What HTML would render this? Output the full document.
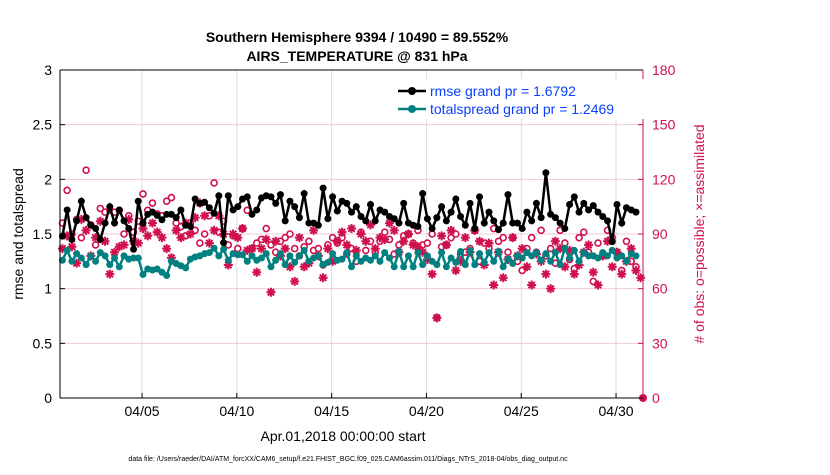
<!DOCTYPE html>
<html><head><meta charset="utf-8">
<style>
body{margin:0;background:#fff;font-family:"Liberation Sans",sans-serif}
svg text{font-family:"Liberation Sans",sans-serif}
</style></head><body>
<svg id="c" width="830" height="470" xmlns="http://www.w3.org/2000/svg">
<rect width="830" height="470" fill="#fff"/>
<text x="357" y="42" text-anchor="middle" font-size="14" font-weight="bold">Southern Hemisphere 9394 / 10490 = 89.552%</text>
<text x="357" y="61" text-anchor="middle" font-size="14" font-weight="bold">AIRS_TEMPERATURE @ 831 hPa</text>
<g id="grid"></g>
<g id="marks"></g>
<g id="axes"></g>
<text x="23" y="234" transform="rotate(-90 23 234)" text-anchor="middle" font-size="14">rmse and totalspread</text>
<text x="704" y="234" transform="rotate(-90 704 234)" text-anchor="middle" font-size="14" fill="#d0104c"># of obs: o=possible; ×=assimilated</text>
<text x="343" y="441" text-anchor="middle" font-size="14">Apr.01,2018 00:00:00 start</text>
<text x="348" y="461" text-anchor="middle" font-size="7">data file: /Users/raeder/DAI/ATM_forcXX/CAM6_setup/f.e21.FHIST_BGC.f09_025.CAM6assim.011/Diags_NTrS_2018-04/obs_diag_output.nc</text>
<g>
<rect x="392" y="79" width="252" height="40" fill="#fff"/>
<line x1="398" y1="91" x2="426" y2="91" stroke="#000" stroke-width="2.5"/><circle cx="412" cy="91" r="4" fill="#000"/>
<text x="430" y="96" font-size="14" fill="#0a40ff">rmse grand pr = 1.6792</text>
<line x1="398" y1="109" x2="426" y2="109" stroke="#008080" stroke-width="2.5"/><circle cx="412" cy="109" r="4" fill="#008080"/>
<text x="430" y="114" font-size="14" fill="#0a40ff">totalspread grand pr = 1.2469</text>
</g>
</svg>
<script>
const rmse=[1.48,1.72,1.45,1.62,1.8,1.65,1.58,1.55,1.45,1.6,1.75,1.6,1.72,1.62,1.55,1.36,1.8,1.6,1.68,1.7,1.67,1.63,1.68,1.68,1.65,1.72,1.58,1.57,1.82,1.78,1.79,1.74,1.69,1.85,1.42,1.85,1.72,1.75,1.82,1.84,1.68,1.72,1.83,1.85,1.84,1.78,1.86,1.62,1.8,1.75,1.65,1.87,1.6,1.6,1.58,1.92,1.64,1.84,1.71,1.8,1.78,1.7,1.75,1.66,1.62,1.77,1.62,1.72,1.7,1.66,1.64,1.6,1.78,1.6,1.58,1.57,1.87,1.64,1.55,1.65,1.75,1.62,1.7,1.82,1.66,1.58,1.78,1.55,1.84,1.6,1.7,1.62,1.54,1.6,1.86,1.6,1.6,1.55,1.7,1.62,1.78,1.65,2.06,1.68,1.65,1.6,1.55,1.77,1.84,1.7,1.78,1.72,1.76,1.7,1.66,1.62,1.43,1.77,1.6,1.74,1.72,1.7];
const spread=[1.26,1.35,1.25,1.32,1.28,1.22,1.3,1.25,1.33,1.3,1.22,1.28,1.2,1.3,1.27,1.28,1.28,1.13,1.18,1.17,1.18,1.15,1.12,1.25,1.23,1.21,1.19,1.27,1.29,1.3,1.32,1.33,1.37,1.3,1.36,1.26,1.32,1.31,1.31,1.25,1.3,1.26,1.28,1.32,1.2,1.26,1.32,1.22,1.3,1.24,1.3,1.35,1.25,1.28,1.3,1.22,1.24,1.32,1.26,1.27,1.33,1.2,1.3,1.25,1.28,1.26,1.3,1.25,1.33,1.28,1.2,1.34,1.2,1.3,1.2,1.33,1.22,1.3,1.25,1.22,1.33,1.2,1.28,1.24,1.34,1.22,1.35,1.22,1.32,1.24,1.33,1.25,1.34,1.2,1.27,1.23,1.3,1.28,1.33,1.3,1.33,1.26,1.32,1.25,1.33,1.22,1.37,1.28,1.35,1.25,1.33,1.3,1.3,1.28,1.33,1.3,1.35,1.28,1.3,1.25,1.32,1.3];
const possible=[96,114,90,98,88,125,95,84,104,102,103,102,103,90,100,91,97,112,103,107,101,100,108,110,96,94,89,96,92,85,90,100,118,91,97,84,89,82,93,103,82,85,87,93,84,80,86,88,90,82,78,83,86,81,82,73,84,88,85,88,79,82,75,91,81,86,80,86,91,87,79,84,89,90,85,92,84,85,90,44,83,84,88,90,79,80,82,92,75,85,82,93,86,88,80,88,75,70,82,88,80,92,78,82,74,92,85,76,71,88,91,80,64,85,78,92,88,80,70,86,75,72];
const assim=[82,89,83,74,98,92,78,88,97,86,68,80,83,84,98,86,85,93,89,96,91,88,82,77,92,88,96,90,99,107,100,85,92,100,90,73,90,88,93,81,82,69,82,87,58,86,78,82,72,64,88,72,74,92,78,66,82,75,86,91,84,93,81,90,86,95,82,88,87,96,92,80,86,90,84,83,80,76,68,44,89,84,92,70,75,88,80,92,86,73,85,62,80,66,76,88,78,82,72,62,79,75,68,60,86,82,72,81,68,73,80,84,69,62,78,86,72,80,68,75,82,70,66];
const X0=60,X1=643,Y0=398,Y1=70;
const tToX=d=>66.2+d*18.96;
const yL=v=>Y0-(v/3)*(Y0-Y1);
const yR=v=>Y0-(v/180)*(Y0-Y1);
const ns='http://www.w3.org/2000/svg';
function mk(tag,attrs,parent){const e=document.createElementNS(ns,tag);for(const k in attrs)e.setAttribute(k,attrs[k]);parent.appendChild(e);return e;}
const grid=document.getElementById('grid'),marks=document.getElementById('marks'),axes=document.getElementById('axes');
const xTickDays=[4,9,14,19,24,29];
const xTickLabels=['04/05','04/10','04/15','04/20','04/25','04/30'];
const yTicksL=[0,0.5,1,1.5,2,2.5,3];
const yTicksR=[0,30,60,90,120,150,180];
xTickDays.forEach((d,i)=>{
 const x=tToX(d);
 const g=mk('line',{x1:x,x2:x,y1:Y1,y2:Y0,stroke:'#dcdcdc','stroke-width':1},grid);
 
 mk('line',{x1:x,x2:x,y1:Y0,y2:Y0-5,stroke:'#000'},axes);
 const t=mk('text',{x:x,y:Y0+18,'text-anchor':'middle','font-size':14},axes);t.textContent=xTickLabels[i];
 
});
yTicksL.forEach(v=>{
 const y=yL(v);
 if(v>0&&v<3){const g=mk('line',{x1:X0,x2:X1,y1:y,y2:y,stroke:'#f0c8d8','stroke-width':1},grid);}
 mk('line',{x1:X0,x2:X0+5,y1:y,y2:y,stroke:'#000'},axes);
 const t=mk('text',{x:X0-8,y:y+5,'text-anchor':'end','font-size':14},axes);t.textContent=String(v);
 
});
yTicksR.forEach(v=>{
 const y=yR(v);
 mk('line',{x1:X1-5,x2:X1,y1:y,y2:y,stroke:'#d0104c'},axes);
 const t=mk('text',{x:X1+9,y:y+5,'font-size':14,fill:'#d0104c'},axes);t.textContent=String(v);
 
});
mk('line',{x1:X0,x2:X0,y1:Y1,y2:Y0,stroke:'#000'},axes);
mk('line',{x1:X0,x2:X1,y1:Y0,y2:Y0,stroke:'#000'},axes);
mk('line',{x1:X1,x2:X1,y1:Y1,y2:Y0,stroke:'#d0104c'},axes);
mk('line',{x1:X0,x2:X1,y1:Y1,y2:Y1,stroke:'#000'},axes);
const dayOf=i=>-0.2+i*0.25;
const red='#d0104c';
possible.forEach((v,i)=>{const c=mk('circle',{cx:tToX(dayOf(i)),cy:yR(v),r:3,fill:'#fff',stroke:red,'stroke-width':1.6},marks);
 });
assim.forEach((v,i)=>{const x=tToX(dayOf(i)),y=yR(v),r=4.5,q=3.2;
 const d=`M${x-r},${y}H${x+r}M${x},${y-r}V${y+r}M${x-q},${y-q}L${x+q},${y+q}M${x-q},${y+q}L${x+q},${y-q}`;
 const p=mk('path',{d:d,stroke:red,'stroke-width':2,fill:'none'},marks);
 });
function series(arr,col,name){
 const pts=arr.map((v,i)=>tToX(dayOf(i))+','+yL(v)).join(' ');
 const p=mk('polyline',{points:pts,fill:'none',stroke:col,'stroke-width':2.5},marks);
 
 arr.forEach((v,i)=>{const c=mk('circle',{cx:tToX(dayOf(i)),cy:yL(v),r:3.5,fill:col},marks);
  });
}
series(spread,'#008080','totalspread');
series(rmse,'#000','rmse');
const z=mk('circle',{cx:X1,cy:Y0,r:4,fill:red},marks);

</script>
</body></html>
